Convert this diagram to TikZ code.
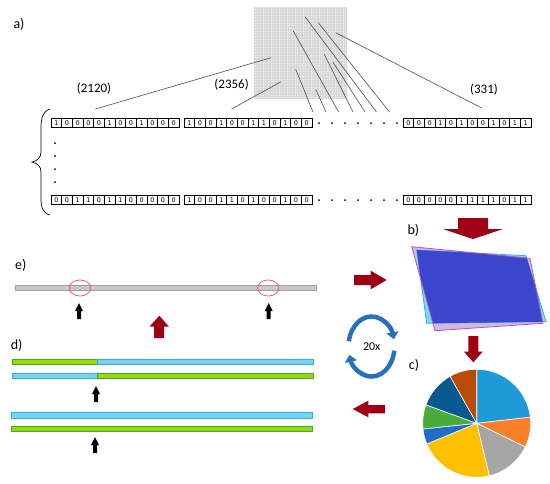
\documentclass[tikz,border=0pt]{standalone}
\usepackage{fontspec}
\setmainfont{Carlito}
\newfontfamily\cellfont{DejaVu Sans}
\usetikzlibrary{arrows.meta}
\definecolor{arrowred}{RGB}{160,0,22}
\definecolor{barcyan}{RGB}{125,210,238}
\definecolor{barcyanline}{RGB}{40,180,232}
\definecolor{bargreen}{RGB}{155,218,0}
\definecolor{bargreenline}{RGB}{50,175,60}
\definecolor{loopblue}{RGB}{38,112,190}
\definecolor{pielb}{RGB}{30,155,215}
\definecolor{pieor}{RGB}{250,128,40}
\definecolor{piegr}{RGB}{166,166,166}
\definecolor{pieye}{RGB}{255,192,0}
\definecolor{piebl}{RGB}{30,110,200}
\definecolor{piegn}{RGB}{75,172,60}
\definecolor{piedb}{RGB}{10,90,145}
\definecolor{piebr}{RGB}{185,75,10}
\newcommand{\bitblock}[4]{%
  \foreach \bitval [count=\i] in {#4}
    \node[bit] (#1-\i) at ({#2+(\i-0.5)*10.67},#3) {\bitval};
}
\tikzset{uparrow/.pic={\fill (0,0) -- (4,8) -- (2,8) -- (2,16) -- (-2,16) -- (-2,8) -- (-4,8) -- cycle;}}
\begin{document}
\begin{tikzpicture}[x=1pt,y=-1pt]
        \tikzstyle{bit}=[draw, line width=0.5pt, minimum width=10.67pt, minimum height=9pt, inner sep=0pt, font=\cellfont\fontsize{6.5}{7}\selectfont]
        \tikzstyle{ray}=[draw=black!70, line width=0.6pt]
        \tikzstyle{lbl}=[font=\fontsize{14}{14}\selectfont, inner sep=0pt]
        \tikzstyle{sizelbl}=[font=\fontsize{13}{13}\selectfont, inner sep=0pt]
        \tikzstyle{bigarrow}=[fill=arrowred]
        \useasboundingbox (0,0) rectangle (550,483);
        % a) image grid and bit strings
        \node[lbl] (la) at (19,24) {a)};
        \fill[gray!10] (254,7) rectangle (346,99);
        \draw[gray!30, line width=0.2pt, step=1.6pt] (254,7) grid (346,99);
        \foreach \n/\gx/\gy/\ex/\ey in {1/271/57.7/95.4/109, 2/281/81.7/231.6/109,
            3/295.7/69.3/313/112, 4/315.7/89.3/326/112, 5/293.3/31/338.6/112,
            6/324.3/54.3/353/112, 7/332.7/61.7/365/112, 8/305/16.7/376.5/112,
            9/318.3/22.7/389.5/112, 10/335.7/32.7/481.7/108}{
          \coordinate (g\n) at (\gx,\gy);
          \coordinate (e\n) at (\ex,\ey);
          \draw[ray] (g\n) -- (e\n);
        }
        \node[sizelbl] (n2120) at (94,89) {(2120)};
        \node[sizelbl] (n2356) at (231.6,85) {(2356)};
        \node[sizelbl] (n331) at (484,90) {(331)};
        \bitblock{ra}{51}{123}{1,0,0,0,0,1,0,0,1,0,0,0}
        \bitblock{rb}{184}{123}{1,0,0,1,0,0,1,1,0,1,0,0}
        \bitblock{rc}{403}{123}{0,0,0,1,0,1,0,0,1,0,1,1}
        \bitblock{sa}{51}{200}{0,0,1,1,0,1,1,0,0,0,0,0}
        \bitblock{sb}{184}{200}{1,0,0,1,1,0,1,0,0,1,0,0}
        \bitblock{sc}{403}{200}{0,0,0,0,0,1,1,1,1,0,1,1}
        \foreach \x in {319,332,...,397}{
          \fill (\x,123) circle (1pt);
          \fill (\x,200) circle (1pt);
        }
        \foreach \y in {143,156,169,182}
          \fill (55,\y) circle (1pt);
        \draw[line width=0.7pt] (50,109) .. controls (43,111) and (41,118) .. (41,128) -- (41,152)
          .. controls (41,158) and (37,161) .. (32,162) .. controls (37,163) and (41,166) .. (41,172)
          -- (41,198) .. controls (41,208) and (43,213) .. (50,215);
        % b) fitted planes
        \node[lbl] (lb) at (413.3,230) {b)};
        \fill[bigarrow] (458,218) -- (488,218) -- (488,229) -- (503,229) -- (473,239) -- (443,229) -- (458,229) -- cycle;
        \fill[fill={rgb,255:red,205;green,185;blue,228}] (411.7,246.7) -- (530,258.3) -- (543,323.3) -- (435,330.7) -- cycle;
        \filldraw[fill={rgb,255:red,125;green,218;blue,238}, draw=barcyanline, line width=0.8pt]
          (416.7,250) -- (526,255.7) -- (546,321.7) -- (426.7,323.3) -- cycle;
        \begin{scope}
          \clip (411.7,246.7) -- (530,258.3) -- (543,323.3) -- (435,330.7) -- cycle;
          \fill[fill={rgb,255:red,58;green,71;blue,204}] (416.7,250) -- (526,255.7) -- (546,321.7) -- (426.7,323.3) -- cycle;
        \end{scope}
        \draw[draw={rgb,255:red,195;green,80;blue,190}, line width=0.8pt] (411.7,246.7) -- (530,258.3) -- (543,323.3) -- (435,330.7) -- cycle;
        \fill[bigarrow] (354,275) -- (370.7,275) -- (370.7,270.7) -- (386.7,280) -- (370.7,289.3) -- (370.7,285) -- (354,285) -- cycle;
        % e) chromosome
        \node[lbl] (le) at (20.7,265) {e)};
        \filldraw[fill=gray!42, draw=gray!75, line width=0.7pt] (15,285.3) rectangle (316,290.7);
        \draw[red!70, line width=0.7pt] (80,288) ellipse [x radius=10.7pt, y radius=8pt];
        \draw[red!70, line width=0.7pt] (268.3,288) ellipse [x radius=10.7pt, y radius=8pt];
        \pic at (79,303) {uparrow};
        \pic at (268.7,303) {uparrow};
        \fill[bigarrow] (154,338) -- (164,338) -- (164,326.7) -- (169,326.7) -- (159.3,315.7) -- (149.5,326.7) -- (154,326.7) -- cycle;
        % d) crossover
        \node[lbl] (ld) at (16.7,345) {d)};
        \filldraw[fill=bargreen, draw=bargreenline, line width=0.7pt] (12.7,359.3) rectangle (97,364.3);
        \filldraw[fill=barcyan, draw=barcyanline, line width=0.7pt] (97,359.3) rectangle (313.3,364.3);
        \filldraw[fill=barcyan, draw=barcyanline, line width=0.7pt] (12.7,373.3) rectangle (97,378.3);
        \filldraw[fill=bargreen, draw=bargreenline, line width=0.7pt] (97,373.3) rectangle (313.3,378.3);
        \pic at (96,386) {uparrow};
        \filldraw[fill=barcyan, draw=barcyanline, line width=0.7pt] (11.7,412.3) rectangle (312.7,418);
        \filldraw[fill=bargreen, draw=bargreenline, line width=0.7pt] (11.7,426.3) rectangle (312.7,431.7);
        \pic at (95,437) {uparrow};
        \fill[bigarrow] (352.7,409) -- (368.3,400.7) -- (368.3,405) -- (385,405) -- (385,413.3) -- (368.3,413.3) -- (368.3,417.3) -- cycle;
        % 20x loop
        \begin{scope}[shift={(371.5,346.5)}, y=1pt]
          \draw[loopblue, line width=4.5pt, -{Triangle[length=7pt,width=12pt]}] (170:23pt and 30pt) arc [start angle=170, end angle=14, x radius=23pt, y radius=30pt];
          \draw[loopblue, line width=4.5pt, -{Triangle[length=7pt,width=12pt]}] (-8:23pt and 30pt) arc [start angle=-8, end angle=-164, x radius=23pt, y radius=30pt];
        \end{scope}
        \node[font=\fontsize{12}{12}\selectfont, inner sep=0pt] (loops) at (371.7,346.7) {20x};
        % c) pie
        \node[lbl] (lc) at (414,365) {c)};
        \fill[bigarrow] (468.3,336) -- (478.3,336) -- (478.3,351.7) -- (482.7,351.7) -- (473.3,362.3) -- (464,351.7) -- (468.3,351.7) -- cycle;
        \begin{scope}[shift={(476.7,423.3)}, y=1pt]
          \foreach \a/\b/\c in {90/6.5/pielb, 6.5/-26/pieor, -26/-76.5/piegr, -76.5/-157.5/pieye,
              -157.5/-174/piebl, -174/-200/piegn, -200/-240.5/piedb, -240.5/-270/piebr}
            \filldraw[fill=\c, draw=white, line width=0.6pt] (0,0) -- (\a:54) arc [start angle=\a, end angle=\b, radius=54] -- cycle;
        \end{scope}
\end{tikzpicture}
\end{document}
